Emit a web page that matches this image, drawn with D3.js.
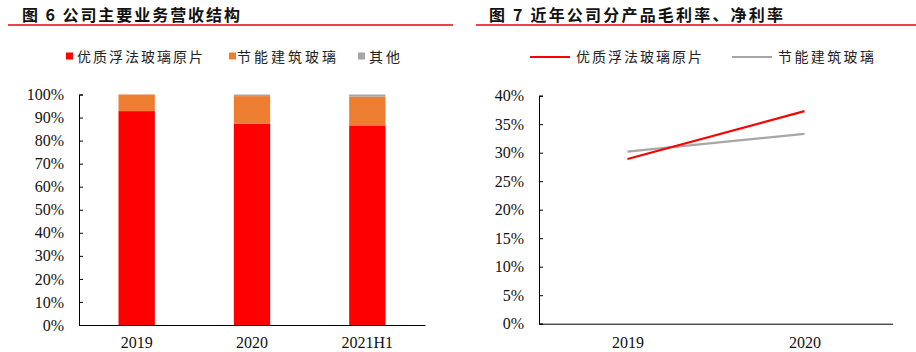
<!DOCTYPE html>
<html>
<head>
<meta charset="utf-8">
<script src="https://cdn.jsdelivr.net/npm/d3@7"></script>
<style>
  body { margin: 0; background: #fff; }
  svg { display: block; }
</style>
</head>
<body>
<svg id="chart" width="916" height="352"></svg>
<script>
// ---- data ----
const barCategories = ["2019", "2020", "2021H1"];
const barSeriesNames = ["优质浮法玻璃原片", "节能建筑玻璃", "其他"];
const floatGlassShare = [0.928, 0.874, 0.866];
const energyGlassShare = [0.072, 0.119, 0.125];
const otherShare = [0.000, 0.007, 0.009];
const barTicks = [0, 0.1, 0.2, 0.3, 0.4, 0.5, 0.6, 0.7, 0.8, 0.9, 1.0];

const lineCategories = ["2019", "2020"];
const lineSeriesNames = ["优质浮法玻璃原片", "节能建筑玻璃"];
const floatGlassMargin = [0.289, 0.373];
const energyGlassMargin = [0.302, 0.333];
const lineTicks = [0, 0.05, 0.10, 0.15, 0.20, 0.25, 0.30, 0.35, 0.40];

const titleLeft = "图 6 公司主要业务营收结构";
const titleRight = "图 7 近年公司分产品毛利率、净利率";

// ---- styles ----
const colors = ["#FF0000", "#ED7D31", "#A5A5A5"];
const cjk = "'Noto Sans CJK SC', 'Noto Sans', sans-serif";
const serif = "'Liberation Serif', 'DejaVu Serif', serif";

const svg = d3.select("#chart");

// titles + red rules
function title(text, x, width, lineX1, lineX2) {
  svg.append("text")
    .attr("x", x).attr("y", 13.5)
    .attr("dominant-baseline", "central")
    .attr("font-family", cjk).attr("font-weight", "bold")
    .attr("font-size", 16).attr("fill", "#111")
    .attr("textLength", width).attr("lengthAdjust", "spacing")
    .text(text);
  svg.append("line")
    .attr("x1", lineX1).attr("x2", lineX2)
    .attr("y1", 25).attr("y2", 25)
    .attr("stroke", "#E60012").attr("stroke-width", 1.6);
}
title(titleLeft, 22, 218, 8, 453);
title(titleRight, 489, 294, 476, 916);

function legendText(text, x, width) {
  svg.append("text")
    .attr("x", x).attr("y", 56)
    .attr("dominant-baseline", "central")
    .attr("font-family", cjk).attr("font-size", 14).attr("fill", "#222")
    .attr("textLength", width).attr("lengthAdjust", "spacing")
    .text(text);
}

// ---- left: stacked bars ----
const L = { x0: 79, x1: 425, y0: 325, y1: 94.5 };
const xb = d3.scaleBand().domain(barCategories).range([L.x0, L.x1]).paddingInner(0.685).paddingOuter(0.3425);
const yb = d3.scaleLinear().domain([0, 1]).range([L.y0, L.y1]);

const rows = barCategories.map((c, i) => ({ cat: c, a: floatGlassShare[i], b: energyGlassShare[i], c: otherShare[i] }));
const stack = d3.stack().keys(["a", "b", "c"])(rows);
const gBars = svg.append("g");
stack.forEach((layer, li) => {
  gBars.selectAll(null).data(layer).enter().append("rect")
    .attr("x", d => xb(d.data.cat))
    .attr("width", xb.bandwidth())
    .attr("y", d => yb(d[1]))
    .attr("height", d => Math.max(0, yb(d[0]) - yb(d[1])))
    .attr("fill", colors[li]);
});

const yAxisL = svg.append("g").attr("transform", `translate(${L.x0},0)`)
  .call(d3.axisRight(yb).tickValues(barTicks).tickSize(4).tickFormat(d3.format(".0%")));
yAxisL.select(".domain").attr("stroke", "#000");
yAxisL.selectAll(".tick line").attr("stroke", "#000");
yAxisL.selectAll(".tick text").attr("x", -15).attr("text-anchor", "end")
  .attr("font-family", serif).attr("font-size", 16).attr("fill", "#111");

const xAxisL = svg.append("g").attr("transform", `translate(0,${L.y0})`)
  .call(d3.axisBottom(xb).tickSize(0).tickPadding(12));
xAxisL.select(".domain").attr("stroke", "#000");
xAxisL.selectAll(".tick text").attr("font-family", serif).attr("font-size", 16).attr("fill", "#111");

// left legend
const legL = [{ x: 66, tx: 77, w: 126 }, { x: 229, tx: 237, w: 99 }, { x: 358, tx: 369, w: 31 }];
barSeriesNames.forEach((n, i) => {
  svg.append("rect").attr("x", legL[i].x).attr("y", 52.5).attr("width", 7).attr("height", 7).attr("fill", colors[i]);
  legendText(n, legL[i].tx, legL[i].w);
});

// ---- right: lines ----
const R = { x0: 539, x1: 893, y0: 323.7, y1: 95.7 };
const xl = d3.scalePoint().domain(lineCategories).range([R.x0, R.x1]).padding(0.5);
const yl = d3.scaleLinear().domain([0, 0.4]).range([R.y0, R.y1]);

const yAxisR = svg.append("g").attr("transform", `translate(${R.x0},0)`)
  .call(d3.axisRight(yl).tickValues(lineTicks).tickSize(4).tickFormat(d3.format(".0%")));
yAxisR.select(".domain").attr("stroke", "#000");
yAxisR.selectAll(".tick line").attr("stroke", "#000");
yAxisR.selectAll(".tick text").attr("x", -15).attr("text-anchor", "end")
  .attr("font-family", serif).attr("font-size", 16).attr("fill", "#111");

const xAxisR = svg.append("g").attr("transform", `translate(0,${R.y0})`)
  .call(d3.axisBottom(xl).tickSize(0).tickPadding(13));
xAxisR.select(".domain").attr("stroke", "#000").attr("d", `M${R.x0},0.5H${R.x1}`);
xAxisR.selectAll(".tick text").attr("font-family", serif).attr("font-size", 16).attr("fill", "#111");

const lineGen = d3.line().x((d, i) => xl(lineCategories[i])).y(d => yl(d));
const lineColors = ["#FF0000", "#A6A6A6"];
[energyGlassMargin, floatGlassMargin].forEach((s, k) => {
  const ci = k === 0 ? 1 : 0;
  svg.append("path").attr("d", lineGen(s)).attr("fill", "none")
    .attr("stroke", lineColors[ci]).attr("stroke-width", 2.2);
});

// right legend
const legR = [{ x1: 530, x2: 570, tx: 576, w: 126 }, { x1: 732, x2: 772, tx: 778, w: 96 }];
lineSeriesNames.forEach((n, i) => {
  svg.append("line").attr("x1", legR[i].x1).attr("x2", legR[i].x2).attr("y1", 57).attr("y2", 57)
    .attr("stroke", lineColors[i]).attr("stroke-width", 2.2);
  legendText(n, legR[i].tx, legR[i].w);
});
</script>
</body>
</html>
